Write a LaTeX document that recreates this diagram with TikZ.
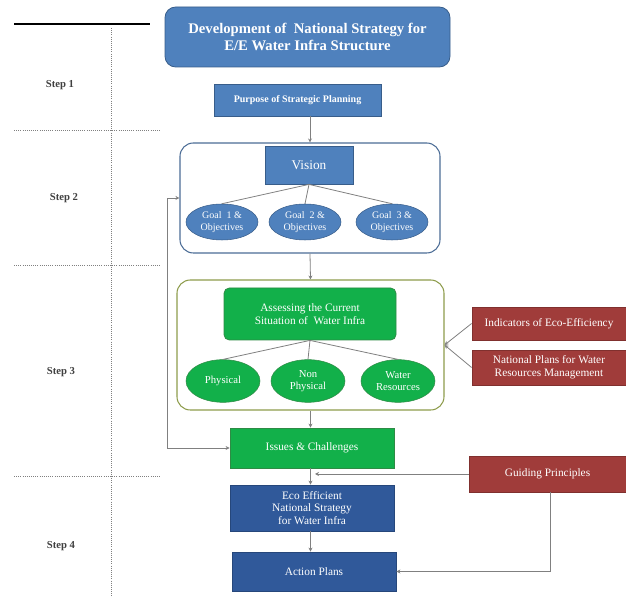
\documentclass[tikz,border=0pt]{standalone}
\usepackage{fontspec}
\setmainfont{Liberation Serif}
\usetikzlibrary{shapes.geometric, arrows.meta}
\definecolor{blueA}{HTML}{4F81BD}
\definecolor{blueLine}{HTML}{385D8A}
\definecolor{blueDark}{HTML}{30599A}
\definecolor{greenA}{HTML}{12B04A}
\definecolor{greenLine}{HTML}{2E8B45}
\definecolor{redA}{HTML}{A03C3A}
\definecolor{oliveLine}{HTML}{8E9C4C}
\definecolor{stepgray}{HTML}{404040}
\begin{document}
\begin{tikzpicture}[x=0.75pt, y=-0.75pt,
	box/.style={draw=#1, line width=0.6pt, text=white, align=center, inner sep=1pt, font=\fontsize{8.5}{9.5}\selectfont},
	bluebox/.style={box=blueLine, fill=blueA},
	darkbox/.style={box=blueDark!80!black, fill=blueDark},
	greenbox/.style={box=greenLine, fill=greenA},
	redbox/.style={box=redA!80!black, fill=redA},
	goal/.style={ellipse, draw=blueLine, fill=blueA, text=white, align=center, inner sep=0pt,
		minimum width=54pt, minimum height=27pt, font=\fontsize{7.5}{8.5}\selectfont},
	part/.style={ellipse, draw=greenLine, fill=greenA, text=white, align=center, inner sep=0pt,
		minimum width=55.5pt, minimum height=32pt, font=\fontsize{8}{9}\selectfont},
	group/.style={draw=#1, line width=0.8pt, fill=white, rounded corners=10pt},
	link/.style={draw=gray, line width=0.6pt},
	flow/.style={link, -{Stealth[length=3pt, width=3pt]}},
	steplabel/.style={text=stepgray, font=\bfseries\fontsize{8}{9}\selectfont}]
	\useasboundingbox (0,0) rectangle (626,598);

	%step column
	\draw[line width=1.2pt] (14,24) -- (150,24);
	\draw[gray, densely dotted, line width=0.6pt] (111,28) -- (111,598);
	\foreach \y in {130, 265, 476}{
		\draw[gray, densely dotted, line width=0.6pt] (14,\y) -- (160,\y);
	}
	\node[steplabel] (s1) at (60,85) {Step 1};
	\node[steplabel] (s2) at (64,198) {Step 2};
	\node[steplabel] (s3) at (61,372) {Step 3};
	\node[steplabel] (s4) at (61,546) {Step 4};

	%step 1
	\node[bluebox, rounded corners=8pt, minimum width=213.75pt, minimum height=45pt,
		font=\bfseries\fontsize{11}{13}\selectfont] (title) at (307.5,37)
		{Development of~ National Strategy for\\E/E Water Infra Structure};
	\node[bluebox, minimum width=125.25pt, minimum height=24pt,
		font=\bfseries\fontsize{7.5}{9}\selectfont] (purpose) at (297.5,100) {Purpose of Strategic Planning};

	%step 2
	\node[group=blueLine!90, minimum width=195pt, minimum height=82.5pt] (visgrp) at (310,198) {};
	\node[bluebox, minimum width=66pt, minimum height=28.5pt,
		font=\fontsize{10}{12}\selectfont] (vision) at (309,165) {Vision};
	\node[goal] (goal1) at (222,222) {Goal~ 1 \&\\Objectives};
	\node[goal] (goal2) at (305,222) {Goal~ 2 \&\\Objectives};
	\node[goal] (goal3) at (392,222) {Goal~ 3 \&\\Objectives};
	\foreach \g in {goal1, goal2, goal3}{
		\draw[link] (vision.south) -- (\g.north);
	}
	\draw[flow] (visgrp.north |- purpose.south) -- (visgrp.north);

	%step 3
	\node[group=oliveLine, minimum width=200.25pt, minimum height=97.5pt] (asgrp) at (310.5,345) {};
	\node[greenbox, rounded corners=4pt, minimum width=129pt, minimum height=39pt] (assess) at (310,314)
		{Assessing the Current\\Situation of~ Water Infra};
	\node[part] (phys) at (223,381) {Physical};
	\node[part] (nonphys) at (308,381) {Non\\Physical};
	\node[part] (waterres) at (398,381) {Water\\Resources};
	\foreach \p in {phys, nonphys, waterres}{
		\draw[link] (assess.south) -- (\p.north);
	}
	\draw[flow] (visgrp.south) -- (asgrp.north);

	\node[redbox, minimum width=115.5pt, minimum height=24.75pt] (indic) at (549,323.5) {Indicators of Eco-Efficiency};
	\node[redbox, minimum width=115.5pt, minimum height=26.25pt] (natplans) at (549,367.5)
		{National Plans for Water\\Resources Management};
	\draw[flow] (indic.west) -- (asgrp.east);
	\draw[flow] (natplans.west) -- (asgrp.east);

	\node[greenbox, minimum width=123pt, minimum height=30pt] (issues) at (312,448) {Issues \& Challenges};
	\draw[flow] (asgrp.south) -- (asgrp.south |- issues.north);
	\draw[link, {Stealth[length=3pt, width=3pt]}-{Stealth[length=3pt, width=3pt]}]
		(issues.west) -- ++(-62,0) |- (visgrp.west);

	%step 4
	\node[darkbox, minimum width=123pt, minimum height=34.5pt] (eco) at (312,508)
		{Eco Efficient\\National Strategy\\for Water Infra};
	\node[darkbox, minimum width=123pt, minimum height=29.25pt] (action) at (314,571.5) {Action Plans};
	\node[redbox, minimum width=117.75pt, minimum height=27pt] (guide) at (547.5,474) {Guiding Principles};
	\draw[flow] (asgrp.south |- issues.south) -- (asgrp.south |- eco.north);
	\draw[flow] (asgrp.south |- eco.south) -- (asgrp.south |- action.north);
	\coordinate (gpend) at (315,474);
	\draw[flow] (guide.west) -- (gpend);
	\draw[flow] ([xshift=2.5pt]guide.south) |- (action.east);
\end{tikzpicture}
\end{document}
